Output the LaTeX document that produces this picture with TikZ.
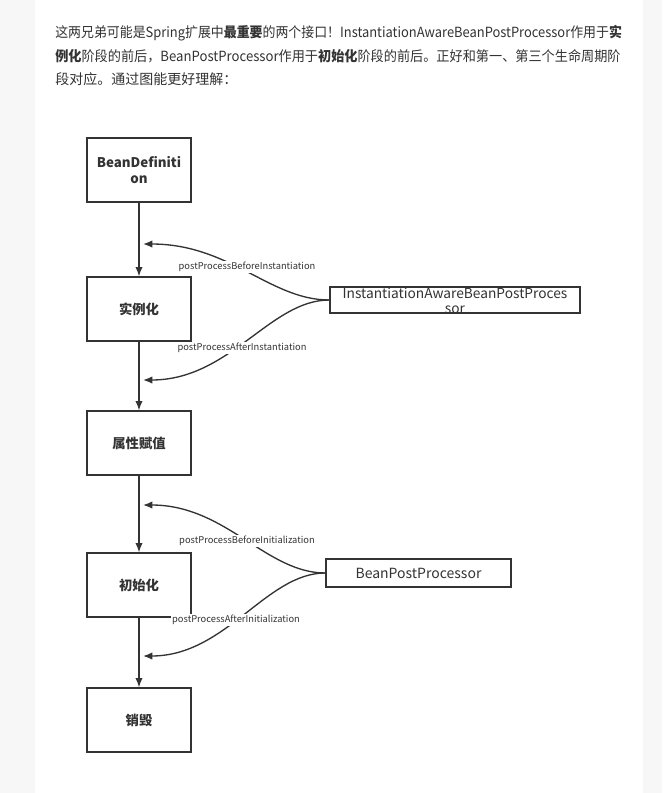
\documentclass[tikz,border=0pt]{standalone}
\usepackage{fontspec}
\setmainfont{Noto Sans CJK SC}
\usepackage{xcolor}
\usepackage{tikz}
\usetikzlibrary{arrows.meta}

\definecolor{ink}{HTML}{333333}
\definecolor{pagegray}{HTML}{F7F7F7}

\begin{document}
\begin{tikzpicture}[x=0.75pt,y=-0.75pt,
	>={Latex[length=7pt,width=5.5pt]},
	stage/.style={draw=ink,line width=1pt,minimum width=78pt,minimum height=48pt,
		align=center,font=\fontsize{10}{12.5}\selectfont\bfseries,text=ink},
	iface/.style={draw=ink,line width=1pt,inner sep=0pt},
	hook/.style={fill=white,inner sep=0.5pt,font=\fontsize{7}{8}\selectfont,text=ink},
	flow/.style={draw=ink,line width=1pt,->},
	para/.style={anchor=west,inner sep=0pt,font=\fontsize{10.5}{12}\selectfont,text=ink}]

	\useasboundingbox (0,0) rectangle (662,793);
	\fill[pagegray] (0,0) rectangle (662,793);
	\fill[white] (35,0) rectangle (643,793);

	% text above the picture
	\node[para] (line1) at (55,33) {\resizebox{425pt}{\height}{这两兄弟可能是Spring扩展中\textbf{最重要}的两个接口！InstantiationAwareBeanPostProcessor作用于\textbf{实}}};
	\node[para] (line2) at (55,56) {\resizebox{424pt}{\height}{\textbf{例化}阶段的前后，BeanPostProcessor作用于\textbf{初始化}阶段的前后。正好和第一、第三个生命周期阶}};
	\node[para] (line3) at (55,79) {段对应。通过图能更好理解：};

	% life cycle
	\node[stage] (bdef) at (139,170) {BeanDefiniti\\on};
	\node[stage] (inst) at (139,309) {实例化};
	\node[stage] (fill) at (139,443) {属性赋值};
	\node[stage] (init) at (139,585) {初始化};
	\node[stage] (kill) at (139,720) {销毁};

	\draw[flow] (bdef) -- (inst);
	\draw[flow] (inst) -- (fill);
	\draw[flow] (fill) -- (init);
	\draw[flow] (init) -- (kill);

	% the two interfaces
	\node[iface,minimum width=187.5pt,minimum height=19.5pt] (iabpp) at (455,300) {};
	\node[align=center,inner sep=0pt,font=\fontsize{10.3}{11.25}\selectfont,text=ink] (iabppText) at (455,300.5) {InstantiationAwareBeanPostProces\\sor};
	\node[iface,minimum width=138.75pt,minimum height=21pt,font=\fontsize{10.5}{12}\selectfont,text=ink] (bpp) at (418.5,573) {BeanPostProcessor};

	\coordinate (beforeInst) at (143,244);
	\coordinate (afterInst) at (143,380);
	\coordinate (beforeInit) at (143,505);
	\coordinate (afterInit) at (143,656);

	\draw[flow] (iabpp.west) .. controls (270,300) and (230,244) .. (beforeInst);
	\draw[flow] (iabpp.west) .. controls (270,300) and (230,380) .. (afterInst);
	\draw[flow] (bpp.west) .. controls (266,573) and (226,505) .. (beforeInit);
	\draw[flow] (bpp.west) .. controls (266,573) and (226,656) .. (afterInit);

	\node[hook] (biLabel) at (247,267) {postProcessBeforeInstantiation};
	\node[hook] (aiLabel) at (242,348) {postProcessAfterInstantiation};
	\node[hook] (bnLabel) at (247,541) {postProcessBeforeInitialization};
	\node[hook] (anLabel) at (236,620) {postProcessAfterInitialization};
\end{tikzpicture}
\end{document}
